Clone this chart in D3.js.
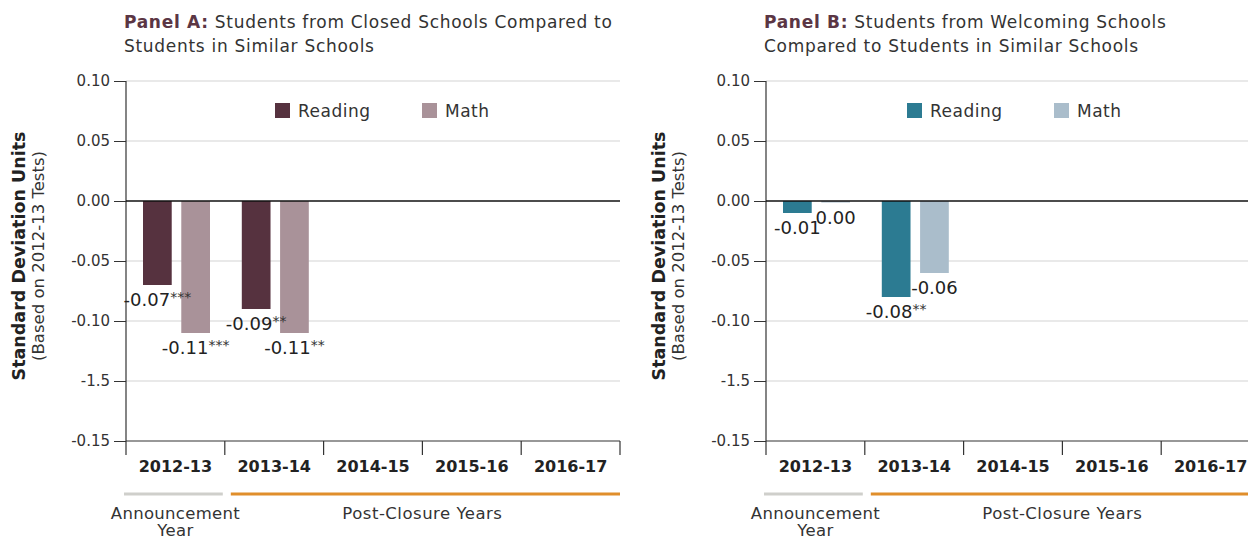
<!DOCTYPE html>
<html lang="en">
<head>
	<meta charset="utf-8">
	<title>Closed and Welcoming Schools</title>
	<style type="text/css">
		body {
			margin: 0;
			background: #fff;
			font-family: "DejaVu Sans", sans-serif;
			color: #333;
		}
	</style>
</head>
<body>
	<div id="content">
		<svg></svg>
	</div>

	<script src="https://cdnjs.cloudflare.com/ajax/libs/d3/7.8.5/d3.min.js"></script>

	<script type="text/javascript">
		// DATA
		var categories = ["2012-13", "2013-14", "2014-15", "2015-16", "2016-17"];
		var series = ["Reading", "Math"];

		var closedReading = [-0.07, -0.09];
		var closedMath = [-0.11, -0.11];
		var closedReadingStars = ["***", "**"];
		var closedMathStars = ["***", "**"];

		var welcomingReading = [-0.01, -0.08];
		var welcomingMath = [0.00, -0.06];
		var welcomingReadingStars = ["", "**"];
		var welcomingMathStars = ["", ""];

		// tick labels as printed in the original (including its "-1.5")
		var yTickValues = [0.10, 0.05, 0.00, -0.05, -0.10, -0.15, -0.20];
		var yTickLabels = ["0.10", "0.05", "0.00", "-0.05", "-0.10", "-1.5", "-0.15"];

		var periods = ["Announcement Year", "Post-Closure Years"];

		var panels = [
			{
				key: "Panel A:",
				title: ["Students from Closed Schools Compared to", "Students in Similar Schools"],
				reading: closedReading, math: closedMath,
				readingStars: closedReadingStars, mathStars: closedMathStars,
				colors: ["#56323f", "#a99299"],
				offset: 0, legendX: 275
			},
			{
				key: "Panel B:",
				title: ["Students from Welcoming Schools", "Compared to Students in Similar Schools"],
				reading: welcomingReading, math: welcomingMath,
				readingStars: welcomingReadingStars, mathStars: welcomingMathStars,
				colors: ["#2c7b92", "#aabdcb"],
				offset: 640, legendX: 267
			}
		];

		var w = 1248, h = 540;
		var svg = d3.select("#content svg")
			.attr("width", w)
			.attr("height", h);

		// plot box inside each panel
		var pLeft = 126, pRight = 620, pTop = 81, pBottom = 441;

		var x = d3.scaleBand()
			.domain(categories)
			.range([pLeft, pRight]);

		var x1 = d3.scaleBand()
			.domain(series)
			.range([17, 84])
			.paddingInner(0.25);

		var y = d3.scaleLinear()
			.domain([-0.20, 0.10])
			.range([pBottom, pTop]);

		function barH(v) {
			return Math.max(Math.abs(y(v) - y(0)), 1.5);
		}

		panels.forEach(function (p) {
			var g = svg.append("g").attr("transform", "translate(" + p.offset + ",0)");

			// title
			var t = g.append("text")
				.attr("x", 124)
				.attr("y", 28)
				.style("font-size", "17px")
				.style("letter-spacing", "0.7px")
				.attr("fill", "#333");
			t.append("tspan").attr("font-weight", "bold").attr("fill", "#5b3644").text(p.key);
			t.append("tspan").text(" " + p.title[0]);
			g.append("text")
				.attr("x", 124)
				.attr("y", 52)
				.style("font-size", "17px")
				.style("letter-spacing", "0.7px")
				.attr("fill", "#333")
				.text(p.title[1]);

			// gridlines
			g.append("g")
				.selectAll("line")
				.data(yTickValues.filter(function (v) { return v !== 0 && v > -0.2; }))
				.enter().append("line")
				.attr("x1", pLeft).attr("x2", pRight)
				.attr("y1", function (d) { return y(d); })
				.attr("y2", function (d) { return y(d); })
				.attr("stroke", "#d3d3d3")
				.attr("stroke-width", 1.2);

			// y axis
			var yAxis = d3.axisLeft(y)
				.tickValues(yTickValues)
				.tickSize(12)
				.tickPadding(4)
				.tickFormat(function (d, i) { return yTickLabels[i]; });
			var ya = g.append("g")
				.attr("transform", "translate(" + pLeft + ",0)")
				.call(yAxis);
			ya.select(".domain").remove();
			ya.selectAll("line").attr("stroke", "#333");
			ya.selectAll("text")
				.style("font-family", "DejaVu Sans")
				.style("font-size", "15px")
				.attr("fill", "#333");
			g.append("line")
				.attr("x1", pLeft).attr("x2", pLeft)
				.attr("y1", pTop).attr("y2", pBottom + 14)
				.attr("stroke", "#333").attr("stroke-width", 1.2);

			// bars first, labels on top
			var rows = [p.reading, p.math];
			var stars = [p.readingStars, p.mathStars];
			var all = [];
			series.forEach(function (s, si) {
				rows[si].forEach(function (v, i) {
					all.push({ s: s, si: si, cat: categories[i], v: v, star: stars[si][i] });
				});
			});

			g.append("g")
				.selectAll("rect")
				.data(all)
				.enter().append("rect")
				.attr("x", function (d) { return x(d.cat) + x1(d.s); })
				.attr("width", x1.bandwidth())
				.attr("y", function (d) { return Math.min(y(d.v), y(0)); })
				.attr("height", function (d) { return barH(d.v); })
				.attr("fill", function (d) { return p.colors[d.si]; });

			// zero line
			g.append("line")
				.attr("x1", pLeft).attr("x2", pRight)
				.attr("y1", y(0)).attr("y2", y(0))
				.attr("stroke", "#111").attr("stroke-width", 1.3);

			var lab = g.append("g")
				.selectAll("text")
				.data(all)
				.enter().append("text")
				.attr("x", function (d) { return x(d.cat) + x1(d.s) + x1.bandwidth() / 2; })
				.attr("y", function (d) { return y(0) + barH(d.v) + 21; })
				.attr("text-anchor", "middle")
				.style("font-size", "18px")
				.attr("fill", "#222");
			lab.append("tspan").text(function (d) { return d3.format(".2f")(d.v).replace("−", "-"); });
			lab.append("tspan")
				.attr("dy", -4)
				.style("font-size", "14px")
				.attr("fill", "#333")
				.text(function (d) { return d.star; });

			// x axis
			var xAxis = d3.axisBottom(x).tickSize(0).tickPadding(20);
			var xa = g.append("g")
				.attr("transform", "translate(0," + pBottom + ")")
				.call(xAxis);
			xa.select(".domain").remove();
			xa.selectAll("text")
				.style("font-family", "DejaVu Sans")
				.style("font-size", "16px")
				.attr("font-weight", "bold")
				.attr("fill", "#222");
			g.append("line")
				.attr("x1", pLeft).attr("x2", pRight)
				.attr("y1", pBottom).attr("y2", pBottom)
				.attr("stroke", "#333").attr("stroke-width", 1.2);
			g.append("g")
				.selectAll("line")
				.data(categories.slice(1).concat(["end"]))
				.enter().append("line")
				.attr("x1", function (d) { return d === "end" ? pRight : x(d); })
				.attr("x2", function (d) { return d === "end" ? pRight : x(d); })
				.attr("y1", pBottom).attr("y2", pBottom + 14)
				.attr("stroke", "#333").attr("stroke-width", 1.2);

			// period brackets
			g.append("line")
				.attr("x1", x(categories[0]) - 2).attr("x2", x(categories[1]) - 2)
				.attr("y1", 494).attr("y2", 494)
				.attr("stroke", "#cfcfcb").attr("stroke-width", 3);
			g.append("line")
				.attr("x1", x(categories[1]) + 6).attr("x2", pRight)
				.attr("y1", 494).attr("y2", 494)
				.attr("stroke", "#e08e2b").attr("stroke-width", 3);

			var pa = g.append("text")
				.attr("text-anchor", "middle")
				.style("font-size", "16.5px")
				.style("letter-spacing", "0.3px")
				.attr("fill", "#333");
			pa.append("tspan").attr("x", x(categories[0]) + x.bandwidth() / 2).attr("y", 519).text("Announcement");
			pa.append("tspan").attr("x", x(categories[0]) + x.bandwidth() / 2).attr("y", 536).text("Year");
			g.append("text")
				.attr("x", (x(categories[1]) + pRight) / 2)
				.attr("y", 519)
				.attr("text-anchor", "middle")
				.style("font-size", "16.5px")
				.style("letter-spacing", "0.5px")
				.attr("fill", "#333")
				.text(periods[1]);

			// legend
			series.forEach(function (s, si) {
				var lx = p.legendX + si * 147;
				g.append("rect")
					.attr("x", lx).attr("y", 103)
					.attr("width", 15).attr("height", 15)
					.attr("fill", p.colors[si]);
				g.append("text")
					.attr("x", lx + 23).attr("y", 117)
					.style("font-size", "17px")
					.style("letter-spacing", "0.5px")
					.attr("fill", "#333")
					.text(s);
			});

			// y axis title
			g.append("text")
				.attr("transform", "translate(25,256) rotate(-90)")
				.attr("text-anchor", "middle")
				.style("font-size", "17.5px")
				.attr("font-weight", "bold")
				.attr("fill", "#222")
				.text("Standard Deviation Units");
			g.append("text")
				.attr("transform", "translate(44,256) rotate(-90)")
				.attr("text-anchor", "middle")
				.style("font-size", "16.5px")
				.attr("fill", "#333")
				.text("(Based on 2012-13 Tests)");
		});
	</script>
</body>
</html>
